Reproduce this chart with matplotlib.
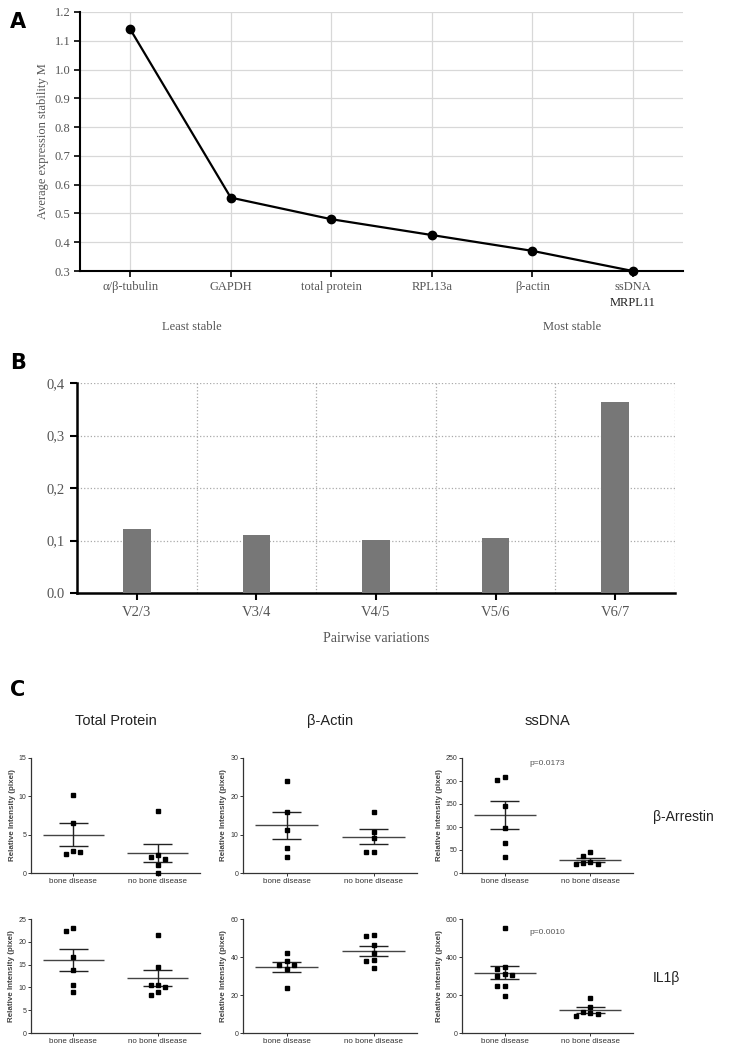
import matplotlib
matplotlib.use("Agg")
import matplotlib.pyplot as plt
import numpy as np

# panel A - geNorm stability
genes = ["\u03b1/\u03b2-tubulin", "GAPDH", "total protein", "RPL13a", "\u03b2-actin", "ssDNA"]
m_vals = [1.14, 0.555, 0.48, 0.425, 0.37, 0.30]

# panel B - pairwise variation
pairs = ["V2/3", "V3/4", "V4/5", "V5/6", "V6/7"]
v_vals = [0.122, 0.110, 0.101, 0.105, 0.364]

# panel C - scatter groups
groups = ["bone disease", "no bone disease"]
col_titles = ["Total Protein", "\u03b2-Actin", "ssDNA"]
row_labels = ["\u03b2-Arrestin", "IL1\u03b2"]
arr_tp = [[10.2, 6.5, 2.9, 2.5, 2.8], [8.1, 2.4, 2.1, 1.8, 1.1, 0.0]]
arr_act = [[24.1, 16.0, 11.2, 6.6, 4.2], [16.0, 10.8, 9.2, 5.5, 5.5]]
arr_ss = [[209, 203, 146, 98, 65, 35], [46, 38, 25, 22, 20, 20]]
il_tp = [[23.0, 22.3, 16.7, 13.9, 10.6, 9.1], [21.4, 14.5, 10.6, 10.5, 10.0, 9.1, 8.4]]
il_act = [[42, 38, 36, 36, 33.5, 23.5], [51.8, 50.9, 46.5, 42.1, 38.6, 37.7, 34.2]]
il_ss = [[555, 350, 335, 310, 300, 305, 250, 250, 195], [184, 135, 110, 105, 100, 90]]
ymaxes = [[15, 30, 250], [25, 60, 600]]
ysteps = [[5, 10, 50], [5, 20, 200]]
pvals = [[None, None, "p=0.0173"], [None, None, "p=0.0010"]]

serif = "Liberation Serif"
sans = "Liberation Sans"
gtxt = "#555555"

fig = plt.figure(figsize=(7.3, 10.5), dpi=100)

# ---------------- A
ax = fig.add_axes([80/730, 1-271/1050, 603/730, 259/1050])
x = np.arange(len(genes))
ax.plot(x, m_vals, color="black", lw=1.6, marker="o", ms=6, zorder=3, clip_on=False)
ax.set_xlim(-0.5, len(genes)-0.5)
ax.set_ylim(0.3, 1.2)
ax.set_yticks(np.arange(0.3, 1.21, 0.1))
ax.set_yticklabels(["%.1f" % t for t in np.arange(0.3, 1.21, 0.1)], family=serif, fontsize=9, color=gtxt)
ax.set_xticks(x)
ax.set_xticklabels(genes, family=serif, fontsize=9, color=gtxt)
ax.grid(True, color="#d8d8d8", lw=0.9)
ax.set_axisbelow(True)
for s in ["top", "right"]:
    ax.spines[s].set_visible(False)
ax.spines["left"].set_linewidth(1.5)
ax.spines["bottom"].set_linewidth(1.5)
ax.tick_params(length=4, width=1.2, pad=3)
ax.set_ylabel("Average expression stability M", family=serif, fontsize=9, color=gtxt, labelpad=4)
fig.text(633/730, 1-303/1050, "MRPL11", family=serif, fontsize=9, color="#222222", ha="center", va="center")
fig.text(192/730, 1-327/1050, "Least stable", family=serif, fontsize=9, color=gtxt, ha="center", va="center")
fig.text(572/730, 1-327/1050, "Most stable", family=serif, fontsize=9, color=gtxt, ha="center", va="center")
fig.text(10/730, 1-22/1050, "A", fontsize=15, weight="bold", ha="left", va="center")

# ---------------- B
bx = fig.add_axes([77/730, 1-593/1050, 598/730, 210/1050])
xb = np.arange(len(pairs))
bx.bar(xb, v_vals, width=0.23, color="#777777", zorder=3)
bx.set_xlim(-0.5, len(pairs)-0.5)
bx.set_ylim(0, 0.4)
bx.set_yticks([0, 0.1, 0.2, 0.3, 0.4])
bx.set_yticklabels(["0.0", "0,1", "0,2", "0,3", "0,4"], family=serif, fontsize=10.5, color=gtxt)
bx.set_xticks(xb)
bx.set_xticklabels(pairs, family=serif, fontsize=10.5, color=gtxt)
for xv in np.arange(0.5, len(pairs), 1.0):
    bx.axvline(xv, color="#aaaaaa", lw=0.9, ls=":", zorder=1)
for yv in [0.1, 0.2, 0.3, 0.4]:
    bx.axhline(yv, color="#aaaaaa", lw=0.9, ls=":", zorder=1)
for s in ["top", "right"]:
    bx.spines[s].set_visible(False)
bx.spines["left"].set_linewidth(1.8)
bx.spines["bottom"].set_linewidth(1.8)
bx.tick_params(length=5, width=1.5, pad=4)
bx.set_xlabel("Pairwise variations", family=serif, fontsize=10, color=gtxt, labelpad=10)
fig.text(10/730, 1-363/1050, "B", fontsize=15, weight="bold", ha="left", va="center")

# ---------------- C
fig.text(10/730, 1-690/1050, "C", fontsize=15, weight="bold", ha="left", va="center")


def swarm(vals, ymax, step=0.085):
    placed = []
    offs = []
    for v in vals:
        o = 0
        for k in [0, -1, 1, -2, 2, -3, 3]:
            o = k * step
            if all(abs(v - pv) > 0.045 * ymax or abs(o - po) > step * 0.9 for pv, po in placed):
                break
        placed.append((v, o))
        offs.append(o)
    return offs


data = [[arr_tp, arr_act, arr_ss], [il_tp, il_act, il_ss]]
lefts = [31, 243, 462]
widths = [169, 174, 171]
rows = [(758, 873), (919, 1033)]
for r in range(2):
    top, bot = rows[r]
    for c in range(3):
        cx = fig.add_axes([lefts[c]/730, 1-bot/1050, widths[c]/730, (bot-top)/1050])
        ymax = ymaxes[r][c]
        for i, vals in enumerate(data[r][c]):
            vals = np.array(vals, dtype=float)
            offs = swarm(vals, ymax)
            cx.plot(i + np.array(offs), vals, "s", color="black", ms=3.2, zorder=3, clip_on=False)
            mu = vals.mean()
            sem = vals.std(ddof=1) / np.sqrt(len(vals))
            cx.hlines(mu, i-0.36, i+0.36, color="#444444", lw=1.0, zorder=2)
            cx.hlines([mu-sem, mu+sem], i-0.17, i+0.17, color="#222222", lw=1.0, zorder=2)
            cx.vlines(i, mu-sem, mu+sem, color="#222222", lw=1.0, zorder=2)
        cx.set_xlim(-0.5, 1.5)
        cx.set_ylim(0, ymax)
        cx.set_yticks(np.arange(0, ymax+0.1, ysteps[r][c]))
        cx.set_xticks([0, 1])
        cx.set_xticklabels(groups, family=sans, fontsize=5.8, color="#333333")
        for lab in cx.get_yticklabels():
            lab.set_family(sans)
            lab.set_fontsize(5)
            lab.set_color("#333333")
        for s in ["top", "right"]:
            cx.spines[s].set_visible(False)
        cx.spines["left"].set_linewidth(0.9)
        cx.spines["bottom"].set_linewidth(0.9)
        cx.spines["left"].set_color("#333333")
        cx.spines["bottom"].set_color("#333333")
        cx.tick_params(length=2, width=0.7, pad=1.5, colors="#333333")
        cx.set_ylabel("Relative Intensity (pixel)", family=sans, fontsize=5.8, weight="bold",
                      color="#444444", labelpad=2)
        if pvals[r][c]:
            cx.text(0.5, 0.95 if r == 0 else 0.88, pvals[r][c], transform=cx.transAxes,
                    family=sans, fontsize=6, color="#555555", ha="center", va="center")
        if r == 0:
            cx.set_title(col_titles[c], family=sans, fontsize=10.5, color="#222222", pad=24)

fig.text(653/730, 1-817/1050, row_labels[0], family=sans, fontsize=10, color="#222222", ha="left", va="center")
fig.text(653/730, 1-978/1050, row_labels[1], family=sans, fontsize=10, color="#222222", ha="left", va="center")

fig.savefig("out.png", dpi=100)
